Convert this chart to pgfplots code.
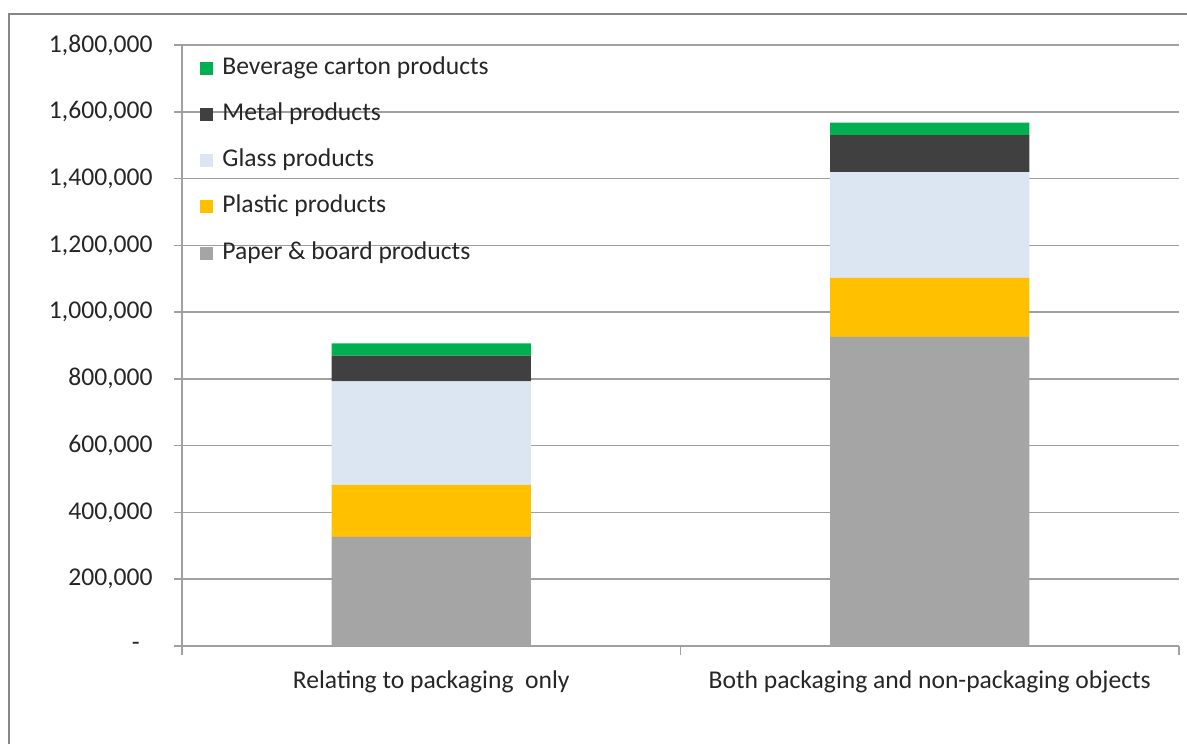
\documentclass[border=0pt]{standalone}
\usepackage{fontspec}
\setmainfont{Carlito}
\usepackage{pgfplots}
\pgfplotsset{compat=1.18}
\definecolor{cPaper}{HTML}{A5A5A5}
\definecolor{cPlastic}{HTML}{FFC000}
\definecolor{cGlass}{HTML}{DCE6F2}
\definecolor{cMetal}{HTML}{404040}
\definecolor{cCarton}{HTML}{00B050}
\definecolor{cGrid}{HTML}{A0A0A0}
\definecolor{cFrame}{HTML}{878787}
\definecolor{cText}{HTML}{262626}
\begin{document}
\begin{tikzpicture}
\begin{axis}[
  at={(0,0)}, anchor=south west,
  scale only axis, width=498.5pt, height=300.5pt,
  ybar stacked, bar width=0.4,
  xmin=-0.5, xmax=1.5, ymin=0, ymax=1800000,
  scaled y ticks=false,
  xtick={0,1},
  xticklabels={Relating to packaging\ \ only, Both packaging and non-packaging objects},
  minor xtick={-0.5,0.5,1.5},
  major x tick style={draw=none},
  minor tick length=4.5pt,
  ytick={0,200000,...,1800000},
  yticklabels={-\hspace*{6.5pt},200{,}000,400{,}000,600{,}000,800{,}000,1{,}000{,}000,1{,}200{,}000,1{,}400{,}000,1{,}600{,}000,1{,}800{,}000},
  major tick length=4pt,
  tick align=outside,
  tick style={cGrid, line width=0.75pt},
  axis x line*=bottom, axis y line*=left,
  axis line style={-, cGrid, line width=0.75pt},
  ymajorgrids, grid style={cGrid, line width=0.75pt},
  ticklabel style={font=\fontsize{12.8}{15}\selectfont, text=cText},
  yticklabel style={anchor=east, inner sep=0pt, xshift=-10.5pt},
  xticklabel style={anchor=base, inner sep=0pt, yshift=-17pt},
  reverse legend,
  legend cell align=left,
  legend style={at={(0,1)}, anchor=north west, xshift=9pt, yshift=-5.5pt,
    draw=none, fill=none, inner sep=0pt, row sep=11.1pt, column sep=4.5pt,
    font=\fontsize{12.8}{15}\selectfont, text=cText,
    nodes={inner sep=0pt, text height=9pt, text depth=3pt}},
  sq/.style={draw=none, legend image code/.code={\fill[##1] (0pt,-3.25pt) rectangle (6.5pt,3.25pt);}},
]
\addplot[fill=cPaper, sq] coordinates {(0,326500) (1,925500)};
\addlegendentry{Paper \& board products}
\addplot[fill=cPlastic, sq] coordinates {(0,155700) (1,176700)};
\addlegendentry{Plastic products}
\addplot[fill=cGlass, sq] coordinates {(0,310600) (1,317400)};
\addlegendentry{Glass products}
\addplot[fill=cMetal, sq] coordinates {(0,76700) (1,110800)};
\addlegendentry{Metal products}
\addplot[fill=cCarton, sq] coordinates {(0,37100) (1,36900)};
\addlegendentry{Beverage carton products}
\end{axis}
\draw[cFrame, line width=1pt] (-86.25pt,-49pt) -- (-86.25pt,316.15pt) -- (502.5pt,316.15pt);
\pgfresetboundingbox
\path[use as bounding box] (-91pt,-49pt) rectangle (502.5pt,323pt);
\end{tikzpicture}
\end{document}
